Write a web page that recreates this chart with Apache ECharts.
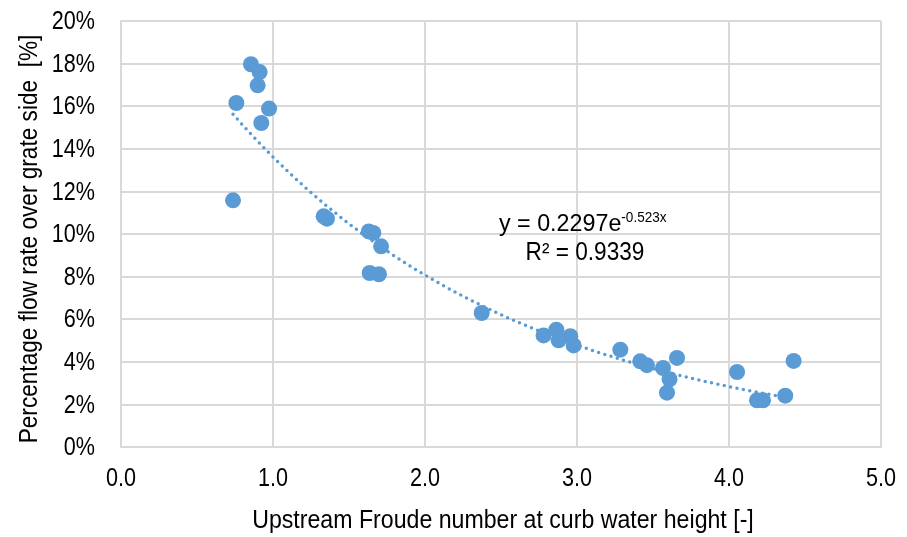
<!DOCTYPE html>
<html>
<head>
<meta charset="utf-8">
<script src="https://cdn.jsdelivr.net/npm/echarts@6/dist/echarts.min.js"></script>
<style>
  html, body { margin: 0; padding: 0; background: #fff; }
  #chart { width: 907px; height: 537px; }
</style>
</head>
<body>
<div id="chart"></div>
<script>
// Upstream Froude number at curb water height [-]
const froude = [
  0.855, 0.912, 0.899, 0.759, 0.974, 0.923, 0.737,
  1.333, 1.355, 1.630, 1.660, 1.711, 1.636, 1.697,
  2.373, 2.780, 2.864, 2.956, 2.879, 2.978,
  3.285, 3.416, 3.460, 3.658, 3.566, 3.609, 3.592,
  4.053, 4.184, 4.224, 4.370, 4.425
];
// Percentage flow rate over grate side [%]
const flowPct = [
  17.97, 17.60, 16.98, 16.15, 15.89, 15.21, 11.58,
  10.83, 10.72, 10.12, 10.05, 9.42, 8.17, 8.11,
  6.29, 5.24, 5.51, 5.20, 5.01, 4.77,
  4.57, 4.02, 3.84, 4.18, 3.71, 3.18, 2.55,
  3.52, 2.19, 2.19, 2.41, 4.04
];
// Exponential trendline y = a·e^(b·x), as stated in the equation label
const trendA = 0.2297;
const trendB = -0.523;
const trendR2 = '0.9339';

// Axis tick labels
const xTickValues = [0, 1, 2, 3, 4, 5];
const xTickLabels = ['0.0', '1.0', '2.0', '3.0', '4.0', '5.0'];
const yTickValues = [0, 2, 4, 6, 8, 10, 12, 14, 16, 18, 20];
const yTickLabels = ['0%', '2%', '4%', '6%', '8%', '10%', '12%', '14%', '16%', '18%', '20%'];

const xTitle = 'Upstream Froude number at curb water height [-]';
const yTitle = 'Percentage flow rate over grate side  [%]';

const points = froude.map((x, i) => [x, flowPct[i]]);

const xMin = Math.min(...froude), xMax = Math.max(...froude);
const trend = [];
const steps = 200;
for (let i = 0; i <= steps; i++) {
  const x = xMin + (xMax - xMin) * i / steps;
  trend.push([x, 100 * trendA * Math.exp(trendB * x)]);
}

const FONT = '"Liberation Sans", Arial, sans-serif';
const BLUE = '#5B9BD5';
const GRID = '#D9D9D9';
const NARROW = 0.83;   // horizontal squeeze to mimic a narrow face

const chart = echarts.init(document.getElementById('chart'), null, { renderer: 'canvas' });
chart.setOption({
  animation: false,
  backgroundColor: '#fff',
  grid: { left: 121, right: 26, top: 21, bottom: 90 },
  xAxis: {
    type: 'value', min: 0, max: 5, interval: 1,
    axisLine: { show: true, lineStyle: { color: GRID, width: 2 } },
    axisTick: { show: false },
    splitLine: { show: true, lineStyle: { color: GRID, width: 2 } },
    axisLabel: { show: false }
  },
  yAxis: {
    type: 'value', min: 0, max: 20, interval: 2,
    axisLine: { show: true, lineStyle: { color: GRID, width: 2 } },
    axisTick: { show: false },
    splitLine: { show: true, lineStyle: { color: GRID, width: 2 } },
    axisLabel: { show: false }
  },
  series: [
    {
      type: 'line', data: trend, showSymbol: false, silent: true,
      lineStyle: { color: BLUE, width: 3.5, type: [0, 6.5], cap: 'round' },
      z: 1
    },
    {
      type: 'scatter', data: points, symbol: 'circle', symbolSize: 16,
      itemStyle: { color: BLUE, opacity: 1 },
      z: 2
    }
  ]
});

// Tick labels and titles, placed through the axis scales
const graphics = [];
xTickValues.forEach((v, i) => {
  const px = chart.convertToPixel({ xAxisIndex: 0 }, v);
  graphics.push({
    type: 'text', x: px, y: 479, scaleX: NARROW, z: 10,
    style: { text: xTickLabels[i], font: '26px ' + FONT, fill: '#000', align: 'center', verticalAlign: 'middle' }
  });
});
yTickValues.forEach((v, i) => {
  const py = chart.convertToPixel({ yAxisIndex: 0 }, v);
  graphics.push({
    type: 'text', x: 95, y: py + 1, scaleX: NARROW, z: 10,
    style: { text: yTickLabels[i], font: '26px ' + FONT, fill: '#000', align: 'right', verticalAlign: 'middle' }
  });
});
graphics.push({
  type: 'text', x: 503, y: 521, scaleX: 0.89, z: 10,
  style: { text: xTitle, font: '26px ' + FONT, fill: '#000', align: 'center', verticalAlign: 'middle' }
});
graphics.push({
  type: 'text', x: 30, y: 239, rotation: Math.PI / 2, scaleX: 0.87, z: 10,
  style: { text: yTitle, font: '26px ' + FONT, fill: '#000', align: 'center', verticalAlign: 'middle' }
});
// Trendline equation and coefficient of determination
graphics.push({
  type: 'text', x: 499, y: 237, scaleX: 0.97, z: 10,
  style: {
    text: '{b|y = ' + trendA + 'e}{s|' + trendB + 'x}',
    align: 'left', verticalAlign: 'bottom',
    rich: {
      b: { fontFamily: FONT, fontSize: 24, fill: '#000', color: '#000', lineHeight: 26 },
      s: { fontFamily: FONT, fontSize: 14, fill: '#000', color: '#000', verticalAlign: 'top', lineHeight: 26, padding: [0, 0, 10, 0] }
    }
  }
});
graphics.push({
  type: 'text', x: 585, y: 253, scaleX: 0.87, z: 10,
  style: { text: 'R² = ' + trendR2, font: '26px ' + FONT, fill: '#000', align: 'center', verticalAlign: 'middle' }
});
chart.setOption({ graphic: graphics });
</script>
</body>
</html>
